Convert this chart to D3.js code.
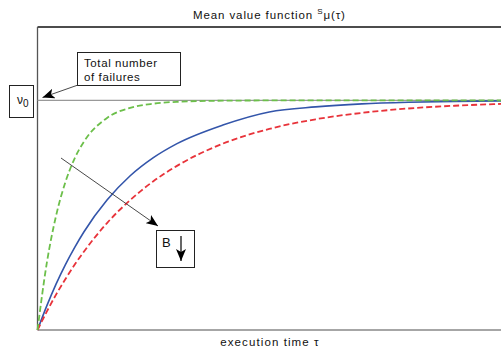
<!DOCTYPE html>
<html><head><meta charset="utf-8">
<script src="https://cdn.jsdelivr.net/npm/d3@7"></script>
<style>
html,body{margin:0;padding:0;background:#fff;}
svg{display:block;font-family:"Liberation Sans",Arial,sans-serif;}
</style></head>
<body><svg id="c" width="501" height="350"></svg>
<script>
// execution time (arbitrary units)
const times = [0, 2, 4, 6, 8, 10, 15, 20, 25, 30, 40, 50, 60, 70, 80, 90, 100];
// mean value function as fraction of ν0 for three values of β
const fastCurve   = [0, 0.291, 0.497, 0.643, 0.747, 0.820, 0.924, 0.968, 0.986, 0.994, 0.999, 1, 1, 1, 1, 1, 1];
const mediumCurve = [0, 0.105, 0.200, 0.284, 0.359, 0.427, 0.566, 0.672, 0.751, 0.811, 0.893, 0.950, 0.972, 0.985, 0.992, 0.996, 0.998];
const slowCurve   = [0, 0.080, 0.154, 0.221, 0.284, 0.341, 0.466, 0.566, 0.648, 0.714, 0.812, 0.876, 0.918, 0.946, 0.965, 0.977, 0.985];
const nu0 = 1;

const svg = d3.select("#c");
const x = d3.scaleLinear().domain([0, 100]).range([37.5, 501]);
const y = d3.scaleLinear().domain([0, 1.32]).range([330, 27]);

const defs = svg.append("defs");
defs.append("marker").attr("id","ah").attr("viewBox","0 0 12 10")
  .attr("refX",12).attr("refY",5).attr("markerWidth",12).attr("markerHeight",10)
  .attr("markerUnits","userSpaceOnUse").attr("orient","auto")
  .append("path").attr("d","M0,0 L12,5 L0,10 L3,5 Z").attr("fill","#000");

// title
const t = svg.append("text").attr("x",193).attr("y",19).attr("font-size",11.5).attr("letter-spacing",0.9).attr("fill","#111");
t.append("tspan").text("Mean value function ");
t.append("tspan").attr("font-size",8).attr("dy",-5).text("S");
t.append("tspan").attr("dy",5).text("\u03bc(\u03c4)");

// frame
svg.append("line").attr("x1",x(0)).attr("x2",501).attr("y1",y(1.32)).attr("y2",y(1.32)).attr("stroke","#111").attr("stroke-width",1.3);
svg.append("line").attr("x1",x(0)).attr("x2",x(0)).attr("y1",y(1.32)).attr("y2",y(0)).attr("stroke","#555").attr("stroke-width",1.3);
svg.append("line").attr("x1",x(0)).attr("x2",501).attr("y1",y(0)).attr("y2",y(0)).attr("stroke","#888").attr("stroke-width",1.5);
// asymptote nu0
svg.append("line").attr("x1",x(0)).attr("x2",501).attr("y1",y(nu0)).attr("y2",y(nu0)).attr("stroke","#999").attr("stroke-width",1.2);

const line = d3.line().x((d,i)=>x(times[i])).y(d=>y(d)).curve(d3.curveMonotoneX);
svg.append("path").attr("d",line(mediumCurve)).attr("fill","none").attr("stroke","#3355aa").attr("stroke-width",1.6);
svg.append("path").attr("d",line(slowCurve)).attr("fill","none").attr("stroke","#e8333a").attr("stroke-width",1.8).attr("stroke-dasharray","6,3");
svg.append("path").attr("d",line(fastCurve)).attr("fill","none").attr("stroke","#6cbf4a").attr("stroke-width",1.8).attr("stroke-dasharray","6,3");

// nu0 box
svg.append("rect").attr("x",9.5).attr("y",85.5).attr("width",24).attr("height",32).attr("fill","#fff").attr("stroke","#222");
const nv = svg.append("text").attr("x",17).attr("y",104).attr("font-size",12).attr("fill","#111");
nv.append("tspan").text("\u03bd");
nv.append("tspan").attr("dy",3).attr("font-size",10).text("0");

// Total number box
svg.append("rect").attr("x",77.5).attr("y",52.5).attr("width",103).attr("height",33).attr("fill","#fff").attr("stroke","#222");
svg.append("text").attr("x",84).attr("y",67).attr("font-size",11.5).attr("letter-spacing",0.6).attr("fill","#111").text("Total number");
svg.append("text").attr("x",84).attr("y",81).attr("font-size",11.5).attr("letter-spacing",0.6).attr("fill","#111").text("of failures");
svg.append("line").attr("x1",78).attr("y1",85).attr("x2",42.5).attr("y2",97.5).attr("stroke","#333").attr("stroke-width",0.9).attr("marker-end","url(#ah)");

// B arrow
svg.append("line").attr("x1",61).attr("y1",158).attr("x2",158).attr("y2",226).attr("stroke","#333").attr("stroke-width",0.9).attr("marker-end","url(#ah)");
svg.append("rect").attr("x",156.5).attr("y",230.5).attr("width",38).attr("height",37).attr("fill","#fff").attr("stroke","#222");
svg.append("text").attr("x",162).attr("y",247).attr("font-size",13).attr("fill","#111").text("B");
svg.append("line").attr("x1",181).attr("y1",236).attr("x2",181).attr("y2",261).attr("stroke","#000").attr("stroke-width",1.2).attr("marker-end","url(#ah)");

// x label
const xl = svg.append("text").attr("x",270).attr("y",346).attr("text-anchor","middle").attr("font-size",11.5).attr("letter-spacing",1.1).attr("fill","#111");
xl.text("execution time \u03c4");
</script></body></html>
